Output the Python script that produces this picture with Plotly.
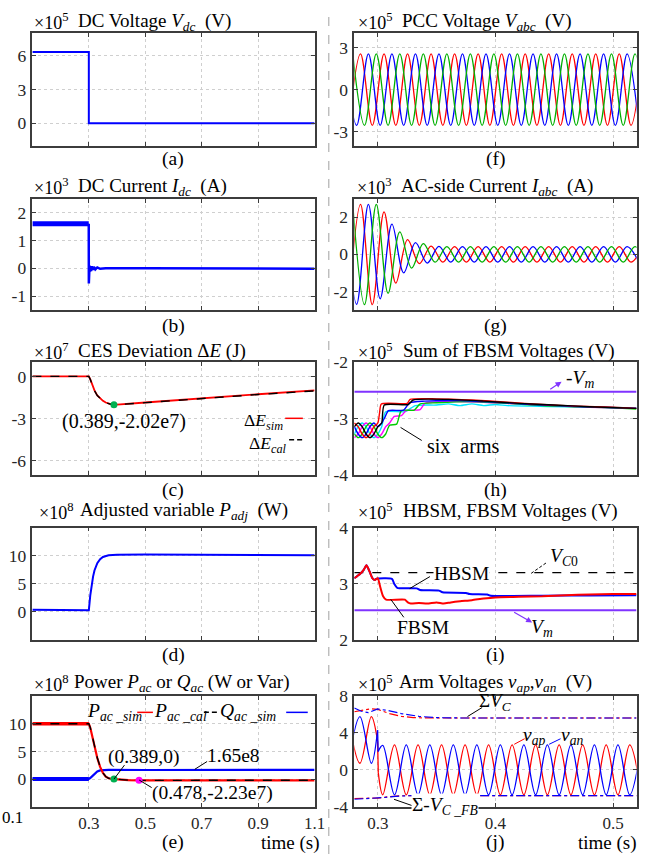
import plotly.graph_objects as go

# ======================= data =======================
# (a) DC voltage (x1e5 V)
vdc_t = [0.1, 0.3, 0.3, 1.1]
vdc_v = [6.35, 6.35, 0.0, 0.0]

# (b) DC current (x1e3 A)
idc_pre_t = [0.1, 0.2997]
idc_pre_v = [1.6, 1.6]
idc_t = [0.2997, 0.3, 0.3012, 0.3025, 0.304, 0.306, 0.308, 0.311, 0.314, 0.318, 0.323, 0.33, 0.34, 0.36, 0.5, 0.7, 0.9, 1.1]
idc_v = [1.6, -0.55, -0.05, 0.1, -0.12, 0.08, -0.1, 0.07, -0.06, 0.05, -0.04, 0.03, -0.02, 0.0, 0.0, 0.0, 0.0, -0.02]

# (c) CES deviation (x1e7 J)
de_t = [0.1, 0.3, 0.305, 0.31, 0.316, 0.32, 0.33, 0.34, 0.35, 0.36, 0.37, 0.38, 0.389, 0.4, 0.5, 0.7, 0.9, 1.1]
de_sim = [0.0, 0.0, -0.2, -0.5, -0.85, -1.0, -1.35, -1.56, -1.74, -1.86, -1.94, -1.99, -2.02, -2.01, -1.86, -1.55, -1.27, -1.0]
de_cal = [0.0, 0.0, -0.21, -0.51, -0.86, -1.01, -1.36, -1.57, -1.75, -1.87, -1.95, -2.0, -2.02, -2.02, -1.87, -1.57, -1.29, -1.03]
de_pt_t = [0.389]
de_pt_v = [-2.02]

# (d) adjusted variable P_adj (x1e8 W)
padj_t = [0.1, 0.2, 0.3, 0.305, 0.31, 0.315, 0.32, 0.33, 0.34, 0.35, 0.37, 0.4, 0.5, 0.7, 0.9, 1.1]
padj_v = [0.4, 0.35, 0.3, 2.9, 4.9, 6.3, 7.4, 8.7, 9.4, 9.8, 10.1, 10.2, 10.22, 10.2, 10.15, 10.1]

# (e) power (x1e8 W / Var)
p_pre_t = [0.1, 0.3]
p_pre_v = [10.0, 10.0]
p_t = [0.1, 0.3, 0.305, 0.31, 0.315, 0.32, 0.33, 0.34, 0.35, 0.36, 0.37, 0.38, 0.389, 0.41, 0.44, 0.478, 0.6, 0.8, 1.1]
p_sim = [10.0, 10.0, 9.3, 8.2, 6.9, 5.6, 3.8, 2.2, 1.1, 0.45, 0.15, 0.04, 0.0, -0.12, -0.19, -0.223, -0.22, -0.22, -0.22]
p_cal = [10.0, 10.0, 9.35, 8.25, 6.95, 5.65, 3.85, 2.25, 1.12, 0.47, 0.16, 0.05, 0.0, -0.11, -0.18, -0.22, -0.21, -0.21, -0.21]
q_pre_t = [0.1, 0.3]
q_pre_v = [0.04, 0.04]
q_t = [0.1, 0.3, 0.305, 0.31, 0.315, 0.32, 0.33, 0.34, 0.35, 0.37, 0.5, 0.7, 0.9, 1.1]
q_sim = [0.04, 0.04, 0.2, 0.45, 0.72, 1.0, 1.38, 1.58, 1.65, 1.67, 1.65, 1.65, 1.65, 1.66]
pt0_t, pt0_v = [0.389], [0.0]
pt1_t, pt1_v = [0.478], [-0.223]

# (f),(g) three-phase waveforms: times of successive extrema (peak/trough) per phase
t_ext_a = [0.2753, 0.2853, 0.2953, 0.3053, 0.3153, 0.3253, 0.3353, 0.3453, 0.3553, 0.3653, 0.3753, 0.3853, 0.3953,
           0.4053, 0.4153, 0.4253, 0.4353, 0.4453, 0.4553, 0.4653, 0.4753, 0.4853, 0.4953, 0.5053, 0.5153, 0.5253]
t_ext_b = [0.2720, 0.2820, 0.2920, 0.3020, 0.3120, 0.3220, 0.3320, 0.3420, 0.3520, 0.3620, 0.3720, 0.3820, 0.3920,
           0.4020, 0.4120, 0.4220, 0.4320, 0.4420, 0.4520, 0.4620, 0.4720, 0.4820, 0.4920, 0.5020, 0.5120, 0.5220]
t_ext_c = [0.2787, 0.2887, 0.2987, 0.3087, 0.3187, 0.3287, 0.3387, 0.3487, 0.3587, 0.3687, 0.3787, 0.3887, 0.3987,
           0.4087, 0.4187, 0.4287, 0.4387, 0.4487, 0.4587, 0.4687, 0.4787, 0.4887, 0.4987, 0.5087, 0.5187, 0.5287]
# (f) PCC voltage extrema (x1e5 V)
vpcc_a = [-2.55, 2.55, -2.55, 2.55, -2.55, 2.55, -2.55, 2.55, -2.55, 2.55, -2.55, 2.55, -2.55,
          2.55, -2.55, 2.55, -2.55, 2.55, -2.55, 2.55, -2.55, 2.55, -2.55, 2.55, -2.55, 2.55]
vpcc_b = [2.55, -2.55, 2.55, -2.55, 2.55, -2.55, 2.55, -2.55, 2.55, -2.55, 2.55, -2.55, 2.55,
          -2.55, 2.55, -2.55, 2.55, -2.55, 2.55, -2.55, 2.55, -2.55, 2.55, -2.55, 2.55, -2.55]
vpcc_c = [2.55, -2.55, 2.55, -2.55, 2.55, -2.55, 2.55, -2.55, 2.55, -2.55, 2.55, -2.55, 2.55,
          -2.55, 2.55, -2.55, 2.55, -2.55, 2.55, -2.55, 2.55, -2.55, 2.55, -2.55, 2.55, -2.55]
# (g) AC-side current extrema (x1e3 A)
iac_a = [-2.65, 2.7, -2.72, 2.3, -1.55, 0.8, -0.5, 0.45, -0.42, 0.42, -0.42, 0.42, -0.42,
         0.42, -0.42, 0.42, -0.42, 0.42, -0.42, 0.42, -0.42, 0.42, -0.42, 0.42, -0.42, 0.42]
iac_b = [2.6, -2.7, 2.7, -2.4, 1.63, -1.0, 0.63, -0.47, 0.43, -0.42, 0.42, -0.42, 0.42,
         -0.42, 0.42, -0.42, 0.42, -0.42, 0.42, -0.42, 0.42, -0.42, 0.42, -0.42, 0.42, -0.42]
iac_c = [2.7, -2.72, 2.7, -2.1, 1.21, -0.74, 0.58, -0.42, 0.42, -0.42, 0.42, -0.42, 0.42,
         -0.42, 0.42, -0.42, 0.42, -0.42, 0.42, -0.42, 0.42, -0.42, 0.42, -0.42, 0.42, -0.42]

# (h) sum of FBSM voltages of the six arms (x1e5 V)
vm_t = [0.28, 0.52]
neg_vm = [-2.525, -2.525]
arm_red_t = [0.28, 0.2833, 0.2867, 0.29, 0.2933, 0.2967, 0.3, 0.3015, 0.303, 0.325, 0.3275, 0.35, 0.38, 0.41, 0.44, 0.47, 0.5, 0.52]
arm_red_v = [-3.08, -3.145, -3.275, -3.34, -3.275, -3.145, -3.08, -2.9, -2.74, -2.73, -2.66, -2.65, -2.67, -2.71, -2.75, -2.78, -2.8, -2.82]
arm_black_t = [0.28, 0.2833, 0.2867, 0.29, 0.2933, 0.2967, 0.3, 0.3033, 0.3055, 0.326, 0.33, 0.36, 0.39, 0.42, 0.45, 0.48, 0.52]
arm_black_v = [-3.145, -3.08, -3.145, -3.275, -3.34, -3.275, -3.145, -3.08, -2.76, -2.75, -2.67, -2.66, -2.69, -2.73, -2.76, -2.79, -2.82]
arm_cyan_t = [0.28, 0.2833, 0.2867, 0.29, 0.2933, 0.2967, 0.3, 0.3033, 0.3067, 0.323, 0.332, 0.35, 0.36, 0.37, 0.38, 0.39, 0.40, 0.41, 0.43, 0.46, 0.49, 0.52]
arm_cyan_v = [-3.275, -3.145, -3.08, -3.145, -3.275, -3.34, -3.275, -3.145, -2.88, -2.88, -2.77, -2.76, -2.74, -2.77, -2.74, -2.77, -2.75, -2.77, -2.78, -2.79, -2.8, -2.81]
arm_blue_t = [0.28, 0.2833, 0.2867, 0.29, 0.2933, 0.2967, 0.3, 0.3033, 0.306, 0.309, 0.322, 0.327, 0.34, 0.37, 0.40, 0.43, 0.46, 0.49, 0.52]
arm_blue_v = [-3.145, -3.275, -3.34, -3.275, -3.145, -3.08, -3.145, -3.08, -2.98, -2.86, -2.85, -2.72, -2.69, -2.68, -2.71, -2.75, -2.78, -2.8, -2.82]
arm_green_t = [0.28, 0.2833, 0.2867, 0.29, 0.2933, 0.2967, 0.3, 0.3033, 0.3067, 0.31, 0.316, 0.32, 0.331, 0.336, 0.35, 0.38, 0.41, 0.44, 0.47, 0.5, 0.52]
arm_green_v = [-3.275, -3.34, -3.275, -3.145, -3.08, -3.145, -3.275, -3.34, -3.275, -3.12, -3.1, -2.86, -2.85, -2.74, -2.72, -2.7, -2.73, -2.77, -2.79, -2.81, -2.83]
arm_mag_t = [0.28, 0.2833, 0.2867, 0.29, 0.2933, 0.2967, 0.3, 0.3033, 0.3067, 0.31, 0.314, 0.32, 0.324, 0.336, 0.34, 0.36, 0.39, 0.42, 0.45, 0.48, 0.52]
arm_mag_v = [-3.34, -3.275, -3.145, -3.08, -3.145, -3.275, -3.34, -3.275, -3.145, -3.08, -2.96, -2.95, -2.86, -2.84, -2.73, -2.7, -2.71, -2.74, -2.77, -2.8, -2.82]

# (i) HBSM / FBSM voltages (x1e5 V)
vc0 = [3.2, 3.2]
vm = [2.53, 2.53]
hb_t = [0.28, 0.285, 0.288, 0.2903, 0.293, 0.2955, 0.2975, 0.2985, 0.312, 0.314, 0.3165, 0.333, 0.336, 0.352, 0.355, 0.375,
        0.378, 0.393, 0.396, 0.44, 0.48, 0.52]
hb_v = [3.1, 3.18, 3.25, 3.33, 3.22, 3.1, 3.07, 3.09, 3.09, 3.0, 2.93, 2.92, 2.89, 2.88, 2.85, 2.84,
        2.82, 2.81, 2.79, 2.79, 2.795, 2.8]
fb_t = [0.28, 0.285, 0.288, 0.2903, 0.293, 0.2955, 0.2975, 0.2999, 0.302, 0.3045, 0.307, 0.323, 0.3255, 0.328, 0.335, 0.342,
        0.35, 0.356, 0.362, 0.37, 0.38, 0.39, 0.40, 0.42, 0.44, 0.46, 0.48, 0.50, 0.52]
fb_v = [3.1, 3.18, 3.25, 3.33, 3.22, 3.1, 3.07, 3.1, 2.95, 2.78, 2.72, 2.72, 2.67, 2.65, 2.66, 2.65,
        2.67, 2.65, 2.67, 2.69, 2.71, 2.74, 2.76, 2.77, 2.78, 2.8, 2.81, 2.82, 2.82]

# (j) arm voltages (x1e5 V)
sum_vc_red_t = [0.28, 0.287, 0.294, 0.30, 0.31, 0.32, 0.33, 0.35, 0.52]
sum_vc_red_v = [6.3, 6.45, 6.62, 6.55, 6.1, 5.8, 5.66, 5.62, 5.62]
sum_vc_blue_t = [0.28, 0.286, 0.292, 0.30, 0.31, 0.32, 0.335, 0.35, 0.37, 0.52]
sum_vc_blue_v = [6.7, 6.35, 6.2, 6.6, 6.4, 6.1, 5.8, 5.66, 5.62, 5.62]
sum_fb_red_t = [0.28, 0.295, 0.30, 0.31, 0.32, 0.52]
sum_fb_red_v = [-3.1, -3.1, -3.05, -2.9, -2.8, -2.8]
sum_fb_blue_t = [0.28, 0.295, 0.305, 0.315, 0.33, 0.52]
sum_fb_blue_v = [-3.18, -3.08, -3.0, -2.86, -2.78, -2.78]
vap_pre_t = [0.2748, 0.2848, 0.2945, 0.2998]
vap_pre_v = [5.76, 0.72, 5.76, 3.1]
vap_jump_t = [0.2998, 0.3004]
vap_jump_v = [3.1, -0.3]
van_pre_t = [0.2748, 0.2848, 0.2945, 0.2998]
van_pre_v = [0.72, 5.76, 0.72, 4.3]
van_jump_t = [0.2998, 0.3003]
van_jump_v = [4.3, 2.0]
arm_post_t = [0.3042, 0.3142, 0.3242, 0.3342, 0.3442, 0.3542, 0.3642, 0.3742, 0.3842, 0.3942, 0.4042, 0.4142,
              0.4242, 0.4342, 0.4442, 0.4542, 0.4642, 0.4742, 0.4842, 0.4942, 0.5042, 0.5142, 0.5242]
vap_post_v = [-2.7, 2.7, -2.7, 2.7, -2.7, 2.7, -2.7, 2.7, -2.7, 2.7, -2.7, 2.7,
              -2.7, 2.7, -2.7, 2.7, -2.7, 2.7, -2.7, 2.7, -2.7, 2.7, -2.7]
van_post_v = [2.65, -2.7, 2.7, -2.7, 2.7, -2.7, 2.7, -2.7, 2.7, -2.7, 2.7, -2.7,
              2.7, -2.7, 2.7, -2.7, 2.7, -2.7, 2.7, -2.7, 2.7, -2.7, 2.7]

# tick values / labels
left_xticks = [0.1, 0.3, 0.5, 0.7, 0.9, 1.1]
right_xticks = [0.3, 0.4, 0.5]
yticks = {1: [0, 3, 6], 2: [-1, 0, 1, 2], 3: [-6, -3, 0], 4: [0, 5, 10], 5: [0, 5, 10],
          6: [-3, 0, 3], 7: [-2, 0, 2], 8: [-4, -3, -2], 9: [2, 3, 4], 10: [-4, 0, 4, 8]}
yranges = {1: [-2, 8], 2: [-1.5, 2.5], 3: [-7, 1], 4: [-5, 15], 5: [-5, 15],
           6: [-4, 4], 7: [-3, 3], 8: [-4, -2], 9: [2, 4], 10: [-4, 8]}

# ======================= figure =======================
W, H = 649, 864
SERIF = "Liberation Serif, Times New Roman, serif"
RED, BLUE, GREEN, BLACK = "#FF0000", "#0000FF", "#00B000", "#000000"
CYAN, MAG, PURPLE = "#00E5FF", "#FF00FF", "#8033FF"
AXC = "#3c3c3c"
SP = "\u00a0"

fig = go.Figure()


def axn(k):
    return ("x" if k == 1 else f"x{k}"), ("y" if k == 1 else f"y{k}")


def line(k, x, y, color, width=1.5, dash=None, shape="linear", smoothing=1.0):
    xa, ya = axn(k)
    fig.add_trace(go.Scatter(x=x, y=y, mode="lines", xaxis=xa, yaxis=ya, hoverinfo="skip", showlegend=False,
                             line=dict(color=color, width=width, dash=dash, shape=shape,
                                       smoothing=smoothing if shape == "spline" else None)))


def dot(k, x, y, color, size=7):
    xa, ya = axn(k)
    fig.add_trace(go.Scatter(x=x, y=y, mode="markers", xaxis=xa, yaxis=ya, hoverinfo="skip", showlegend=False,
                             marker=dict(color=color, size=size)))


# (a)
line(1, vdc_t, vdc_v, BLUE, 2)
# (b)
line(2, idc_pre_t, idc_pre_v, BLUE, 5)
line(2, idc_t, idc_v, BLUE, 2.5)
# (c)
line(3, de_t, de_sim, RED, 1.8)
line(3, de_t, de_cal, BLACK, 1.4, dash="dash")
dot(3, de_pt_t, de_pt_v, "#00B050")
# (d)
line(4, padj_t, padj_v, BLUE, 2)
# (e)
line(5, q_pre_t, q_pre_v, BLUE, 4)
line(5, q_t, q_sim, BLUE, 2.2)
line(5, p_pre_t, p_pre_v, RED, 3.5)
line(5, p_t, p_sim, RED, 2.2)
line(5, p_t, p_cal, BLACK, 1.4, dash="dash")
dot(5, pt0_t, pt0_v, "#00B050")
dot(5, pt1_t, pt1_v, MAG)
# (f)
for tt, vv, cc in [(t_ext_a, vpcc_a, RED), (t_ext_b, vpcc_b, BLUE), (t_ext_c, vpcc_c, GREEN)]:
    line(6, tt, vv, cc, 1.3, shape="spline")
# (g)
for tt, vv, cc in [(t_ext_a, iac_a, RED), (t_ext_b, iac_b, BLUE), (t_ext_c, iac_c, GREEN)]:
    line(7, tt, vv, cc, 1.3, shape="spline")
# (h)
line(8, vm_t, neg_vm, PURPLE, 2)
for tt, vv, cc in [(arm_cyan_t, arm_cyan_v, CYAN), (arm_mag_t, arm_mag_v, MAG), (arm_green_t, arm_green_v, "#00CC00"),
                   (arm_blue_t, arm_blue_v, BLUE), (arm_red_t, arm_red_v, RED), (arm_black_t, arm_black_v, BLACK)]:
    line(8, tt, vv, cc, 1.4, shape="spline", smoothing=0.6)
# (i)
line(9, vm_t, vc0, BLACK, 1.2, dash="dash")
line(9, vm_t, vm, PURPLE, 2)
line(9, hb_t, hb_v, BLUE, 2, shape="spline", smoothing=0.6)
line(9, fb_t, fb_v, RED, 2, shape="spline", smoothing=0.6)
# (j)
line(10, sum_vc_red_t, sum_vc_red_v, RED, 1.2, dash="dashdot")
line(10, sum_vc_blue_t, sum_vc_blue_v, BLUE, 1.2, dash="dashdot")
line(10, sum_fb_red_t, sum_fb_red_v, RED, 1.2, dash="dashdot")
line(10, sum_fb_blue_t, sum_fb_blue_v, BLUE, 1.2, dash="dashdot")
line(10, vap_pre_t, vap_pre_v, RED, 1.3, shape="spline")
line(10, vap_jump_t, vap_jump_v, RED, 1.3)
line(10, [vap_jump_t[-1]] + arm_post_t, [vap_jump_v[-1]] + vap_post_v, RED, 1.3, shape="spline")
line(10, van_pre_t, van_pre_v, BLUE, 1.3, shape="spline")
line(10, van_jump_t, van_jump_v, BLUE, 1.3)
line(10, [van_jump_t[-1]] + arm_post_t, [van_jump_v[-1]] + van_post_v, BLUE, 1.3, shape="spline")

# ---------------- axes ----------------
LEFT = [31 / W, 319 / W]
RIGHT = [359.5 / W, 647.5 / W]
ROWS = [(24, 139), (193.3, 307), (360.7, 475.7), (530, 645), (702.3, 815.7)]

common = dict(showline=True, linecolor=AXC, linewidth=1.5, mirror="ticks", ticks="inside", ticklen=4,
              tickcolor=AXC, tickwidth=1, showgrid=True, gridcolor="#cfcfcf", griddash="dot", gridwidth=1,
              zeroline=False, fixedrange=True, tickfont=dict(family=SERIF, size=17.5, color="#262626"))

lay = {}
for k in range(1, 11):
    col = LEFT if k <= 5 else RIGHT
    r = (k - 1) % 5
    top, bot = ROWS[r]
    xa, ya = axn(k)
    xkey = "xaxis" if k == 1 else f"xaxis{k}"
    ykey = "yaxis" if k == 1 else f"yaxis{k}"
    if k <= 5:
        xt, xr = left_xticks, [0.1, 1.1]
        xtext = [" ", "0.3", "0.5", "0.7", "0.9", "1.1"]
    else:
        xt, xr = right_xticks, [0.28, 0.52]
        xtext = ["0.3", "0.4", "0.5"]
    lay[xkey] = dict(common, domain=col, anchor=ya, range=xr, tickvals=xt, ticktext=xtext,
                     showticklabels=(k in (5, 10)), ticklabelstandoff=0,
                     tickfont=dict(family=SERIF, size=17, color="#262626"))
    yt = yticks[k]
    lay[ykey] = dict(common, domain=[1 - bot / H, 1 - top / H], anchor=xa, range=yranges[k],
                     tickvals=yt, ticktext=[str(v) for v in yt], ticklabelstandoff=1)

fig.update_layout(width=W, height=H, margin=dict(l=0, r=0, t=0, b=0), autosize=False,
                  paper_bgcolor="white", plot_bgcolor="white", showlegend=False, **lay)


# ---------------- texts & leaders ----------------
def txt(x, y, s, size=19, xanchor="center", color="black", bg=None):
    fig.add_annotation(x=x / W, y=1 - y / H, xref="paper", yref="paper", text=s, showarrow=False,
                       xanchor=xanchor, yanchor="middle", font=dict(family=SERIF, size=size, color=color),
                       bgcolor=bg, borderpad=0)


def seg(x0, y0, x1, y1, color="black", width=1, dash=None):
    fig.add_shape(type="line", xref="paper", yref="paper", x0=x0 / W, y0=1 - y0 / H, x1=x1 / W, y1=1 - y1 / H,
                  line=dict(color=color, width=width, dash=dash))


def arrow(xt, yt, xh, yh, color):
    fig.add_annotation(x=xh / W, y=1 - yh / H, xref="paper", yref="paper", ax=xt - xh, ay=yt - yh,
                       axref="pixel", ayref="pixel", text=" ", showarrow=True, arrowhead=2, arrowsize=1,
                       arrowwidth=1.2, arrowcolor=color)


# column separator
fig.add_shape(type="line", xref="paper", yref="paper", x0=333.5 / W, x1=333.5 / W, y0=0, y1=1,
              line=dict(color="#a0a0a0", width=1, dash="dash"))

# titles: exponent prefix + quantity text
titles = [
    (32, 77, 12, "×10<sup>5</sup>", f"DC Voltage <i>V</i><sub><i>dc</i></sub>{SP}{SP}(V)"),
    (32, 77, 181, "×10<sup>3</sup>", f"DC Current <i>I</i><sub><i>dc</i></sub>{SP}{SP}(A)"),
    (32, 77, 349.5, "×10<sup>7</sup>", "CES Deviation Δ<i>E</i> (J)"),
    (37, 79, 513, "×10<sup>8</sup>", f"Adjusted variable <i>P</i><sub><i>adj</i></sub>{SP}{SP}(W)"),
    (32, 72, 689, "×10<sup>8</sup>", "Power <i>P</i><sub><i>ac</i></sub> or <i>Q</i><sub><i>ac</i></sub> (W or Var)"),
    (362, 407, 12, "×10<sup>5</sup>", f"PCC Voltage <i>V</i><sub><i>abc</i></sub>{SP}{SP}(V)"),
    (361, 406, 181, "×10<sup>3</sup>", f"AC-side Current <i>I</i><sub><i>abc</i></sub>{SP}{SP}(A)"),
    (362, 408, 349.5, "×10<sup>5</sup>", "Sum of FBSM Voltages (V)"),
    (362, 408, 513, "×10<sup>5</sup>", "HBSM, FBSM Voltages (V)"),
    (362, 404, 689, "×10<sup>5</sup>", f"Arm Voltages <i>v</i><sub><i>ap</i></sub>,<i>v</i><sub><i>an</i></sub>{SP}{SP}(V)"),
]
for x0, x1, y, pre, s in titles:
    txt(x0, y, pre, 18, "left")
    txt(x1, y, s, 19, "left")

label_y = [153, 323, 491.7, 660.7, 852]
for i, s in enumerate(["(a)", "(b)", "(c)", "(d)", "(e)"]):
    txt(175, label_y[i], s, 19.5)
for i, s in enumerate(["(f)", "(g)", "(h)", "(i)", "(j)"]):
    txt(503.5, label_y[i], s, 19.5)

txt(11, 827, "0.1", 17)
txt(326, 853, "time (s)", 19, "right")
txt(649, 853, "time (s)", 19, "right")

# (c)
txt(125, 421.7, "(0.389,-2.02e7)", 20)
txt(288, 421, "Δ<i>E</i><sub><i>sim</i></sub>", 17.5, "right")
seg(289, 418, 307, 418, RED, 1.5)
txt(292, 445, "Δ<i>E</i><sub><i>cal</i></sub>", 17.5, "right")
seg(293, 440, 307, 440, BLACK, 1.5, "5px,3px")

# (e)
txt(86, 719, "<i>P</i><sub><i>ac _sim</i></sub>", 19.5, "left")
seg(138, 719, 154, 719, RED, 1.5)
txt(154, 719, "<i>P</i><sub><i>ac _cal</i></sub>", 19.5, "left")
seg(206, 719, 221, 719, BLACK, 1.5, "5px,3px")
txt(221, 719, "<i>Q</i><sub><i>ac _sim</i></sub>", 19.5, "left")
seg(290, 719, 312, 719, BLUE, 1.5)
txt(145, 765, "(0.389,0)", 19.5)
seg(114.3, 787.3, 125, 773)
txt(236, 763, "1.65e8", 19.5)
seg(196.7, 777.3, 209.3, 769.3)
txt(215, 801.7, "(0.478,-2.23e7)", 19.5)
seg(140, 788.3, 152.7, 796)

# (h)
txt(590, 378, "-<i>V</i><sub><i>m</i></sub>", 19.5)
arrow(556.7, 390, 571, 380.5, PURPLE)
txt(470, 446, "six  arms".replace(" ", SP), 20)
seg(406.7, 427.3, 428.3, 440.7)

# (i)
txt(573, 560, "<i>V</i><sub><i>C</i>0</sub>", 19.5)
seg(540, 576.7, 556.7, 565, BLACK, 1, "3px,2px")
txt(469, 576.7, "HBSM", 19.5, bg="white")
seg(416, 592.3, 436.7, 580)
txt(430, 631.7, "FBSM", 19.5)
seg(396.7, 603.3, 410, 621.7)
txt(551, 633, "<i>V</i><sub><i>m</i></sub>", 19.5)
arrow(520, 615, 541, 627, PURPLE)

# (j)
txt(503, 708, "Σ<i>V</i><sub><i>C</i></sub>", 19)
seg(475, 723.3, 490, 714)
txt(543, 743, "<i>v</i><sub><i>ap</i></sub>", 19.5)
seg(522.7, 751.7, 533.3, 746, RED)
txt(582, 743, "<i>v</i><sub><i>an</i></sub>", 19.5)
seg(558.3, 751.7, 570, 746, BLUE)
txt(452, 815, "Σ-<i>V</i><sub><i>C _FB</i></sub>", 19.5, bg="white")
seg(400, 808, 420, 815)

fig.write_html("out.html", config={"displayModeBar": False},
               post_script="document.body.style.margin='0px';document.body.style.padding='0px';")
